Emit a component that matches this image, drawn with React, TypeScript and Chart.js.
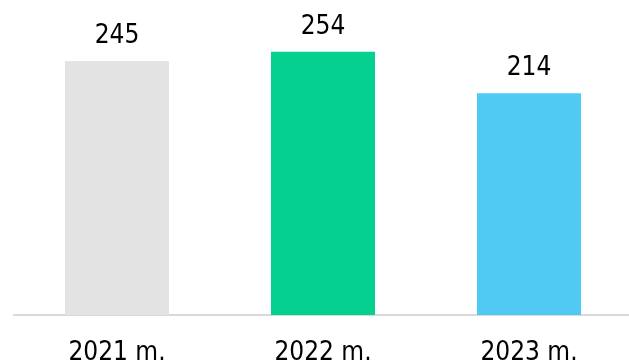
import React, { useEffect, useRef } from "react";
import { Chart, registerables } from "chart.js";

Chart.register(...registerables);

const categories: string[] = ["2021 m.", "2022 m.", "2023 m."];
const values: number[] = [245, 254, 214];
const barColors: string[] = ["#e3e3e3", "#05d090", "#51caf3"];

const FONT_FAMILY = "'DejaVu Sans Condensed', 'DejaVu Sans', sans-serif";

const valueLabels = {
  id: "valueLabels",
  afterDatasetsDraw(chart: any) {
    const ctx = chart.ctx;
    const meta = chart.getDatasetMeta(0);
    ctx.save();
    ctx.font = `26px ${FONT_FAMILY}`;
    ctx.fillStyle = "#000000";
    ctx.textAlign = "center";
    ctx.textBaseline = "alphabetic";
    meta.data.forEach((bar: any, i: number) => {
      ctx.fillText(String(values[i]), bar.x, bar.y - 18);
    });
    ctx.restore();
  },
};

export default function App() {
  const ref = useRef<HTMLCanvasElement | null>(null);
  useEffect(() => {
    if (!ref.current) return;
    const chart = new Chart(ref.current, {
      type: "bar",
      data: {
        labels: categories,
        datasets: [
          {
            data: values,
            backgroundColor: barColors,
            borderWidth: 0,
            barPercentage: 0.505,
            categoryPercentage: 1,
          },
        ],
      },
      options: {
        responsive: false,
        animation: false,
        layout: { padding: { top: 4, left: 14, right: 0, bottom: 0 } },
        plugins: { legend: { display: false }, tooltip: { enabled: false } },
        scales: {
          y: { display: false, min: 0, max: 300 },
          x: {
            grid: { display: false, drawTicks: false, tickLength: 0 },
            border: { display: true, color: "#d9d9d9", width: 2 },
            ticks: {
              color: "#000000",
              font: { family: FONT_FAMILY, size: 26 },
              padding: 23,
              maxRotation: 0,
            },
            afterFit: (scale: any) => {
              scale.height = 48;
            },
          },
        },
      },
      plugins: [valueLabels],
    });
    return () => chart.destroy();
  }, []);
  return (
    <div
      style={{
        position: "fixed",
        left: 0,
        top: 0,
        width: 629,
        height: 363,
        overflow: "hidden",
        background: "#ffffff",
      }}
    >
      <canvas ref={ref} width={632} height={363} />
    </div>
  );
}
